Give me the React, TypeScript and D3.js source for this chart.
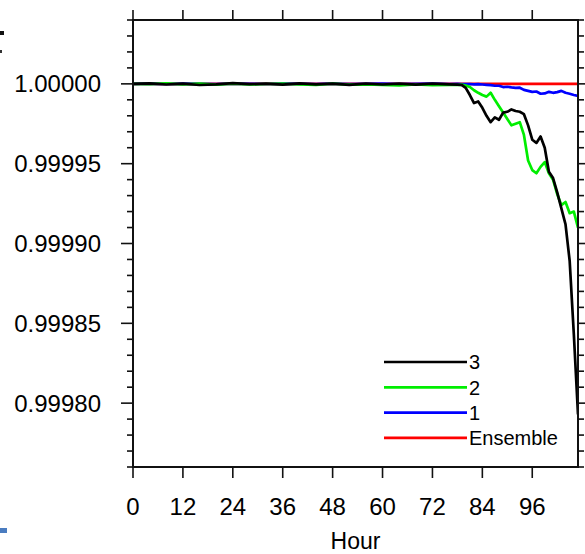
import React from "react";
import * as d3 from "d3";

// hours where the members were sampled (sparse in the flat part)
const hours = [
  0, 4, 8, 12, 16, 20, 24, 28, 32, 36, 40, 44, 48, 52, 56, 60, 64, 68, 72, 76,
  78, 79, 80, 81, 82, 83, 84, 85, 86, 87, 88, 89, 90, 91, 92, 93, 94, 95, 96,
  97, 98, 99, 100, 101, 102, 103, 104, 105, 106, 107,
];

const member3 = [
  1.0, 1.0000003, 0.9999996, 1.0000002, 0.9999993, 0.9999997, 1.0000004, 0.9999998, 1.0000001, 0.9999995,
  1.0000003, 0.9999997, 1.0000002, 0.9999994, 1.0000001, 0.9999996, 1.0000002, 0.9999995, 1.0000001, 0.9999997,
  0.9999995, 0.9999993,
  0.9999975, 0.999993, 0.999988, 0.999989, 0.999985, 0.99998, 0.999976, 0.999979, 0.9999775, 0.999982,
  0.9999825, 0.999984, 0.999983, 0.9999825, 0.999981, 0.999974, 0.999965, 0.999963, 0.999967, 0.99996,
  0.999945, 0.999941, 0.999932, 0.999922, 0.999912, 0.999889, 0.999843, 0.999793,
];

const member2 = [
  1.0, 0.9999998, 1.0000003, 0.9999997, 1.0000002, 0.9999995, 1.0000001, 0.9999996, 0.9999999, 1.0000002,
  0.9999996, 0.9999993, 1.0000001, 0.9999995, 0.9999997, 0.9999994, 0.9999991, 0.9999996, 0.9999992, 0.9999994,
  0.9999993, 0.9999995,
  0.999999, 0.999998, 0.999996, 0.9999944, 0.999993, 0.999992, 0.9999944, 0.99999, 0.999986, 0.999982,
  0.999978, 0.999974, 0.999975, 0.999976, 0.999968, 0.999952, 0.999946, 0.999944, 0.999948, 0.999951,
  0.999944, 0.99994, 0.999931, 0.999924, 0.999926, 0.999919, 0.99992, 0.99991,
];

const member1 = [
  1.0, 1.0000001, 0.9999999, 1.0000002, 1.0, 0.9999998, 1.0000001, 1.0, 0.9999999, 1.0000002,
  1.0, 0.9999998, 1.0000001, 0.9999999, 1.0, 1.0000001, 0.9999999, 1.0, 1.0000001, 0.9999999,
  1.0, 0.9999999,
  0.9999998, 0.9999999, 0.9999997, 0.9999998, 0.9999996, 0.9999994, 0.9999992, 0.9999988, 0.9999988, 0.999998,
  0.9999982, 0.9999978, 0.9999975, 0.9999976, 0.9999962, 0.9999956, 0.999995, 0.9999952, 0.9999938, 0.999994,
  0.999995, 0.9999944, 0.9999948, 0.9999956, 0.9999944, 0.9999938, 0.999993, 0.9999925,
];

const ensembleHours = [0, 24, 48, 72, 96, 107];
const ensemble = [1.0, 1.0, 1.0, 1.0, 1.0, 1.0];

const xTicks = [0, 12, 24, 36, 48, 60, 72, 84, 96];
const yTicks = [0.9998, 0.99985, 0.9999, 0.99995, 1.0];
const yTickLabels = ["0.99980", "0.99985", "0.99990", "0.99995", "1.00000"];

const legendNames = ["3", "2", "1", "Ensemble"];
const legendColors = ["#000000", "#00ee00", "#0000ff", "#ff0000"];

const W = 585;
const H = 554;
const left = 133;
const right = 578;
const top = 20;
const bottom = 467;
const font = "'Liberation Sans', Arial, Helvetica, sans-serif";

export default function App() {
  const x = d3.scaleLinear().domain([0, 107]).range([left, right]);
  const y = d3.scaleLinear().domain([0.99976, 1.00004]).range([bottom, top]);

  const line = d3
    .line<[number, number]>()
    .x((d) => x(d[0]))
    .y((d) => y(d[1]));

  const series = [
    { hrs: ensembleHours, vals: ensemble, color: legendColors[3] },
    { hrs: hours, vals: member1, color: legendColors[2] },
    { hrs: hours, vals: member2, color: legendColors[1] },
    { hrs: hours, vals: member3, color: legendColors[0] },
  ];

  // minor ticks every 0.00001
  const minor = d3.range(0, 29).map((i) => 0.99976 + i * 0.00001);

  return (
    <svg
      width={W}
      height={H}
      style={{ position: "absolute", left: 0, top: 0, background: "#fff" }}
      fontFamily={font}
    >
      <defs>
        <clipPath id="plot">
          <rect x={left} y={top} width={right - left} height={bottom - top} />
        </clipPath>
      </defs>

      {/* crop leftovers at the edges */}
      <rect x={0} y={31} width={4} height={4} fill="#111" />
      <rect x={0} y={50} width={2} height={3} fill="#333" />
      <rect x={0} y={528} width={7} height={5} fill="#4a7cc0" />

      <g clipPath="url(#plot)">
        {series.map((s, i) => (
          <path
            key={i}
            d={line(s.hrs.map((h, j) => [h, s.vals[j]]) as [number, number][]) || ""}
            fill="none"
            stroke={s.color}
            strokeWidth={2.7}
            strokeLinejoin="round"
          />
        ))}
      </g>

      {/* frame */}
      <rect x={left} y={top} width={right - left} height={bottom - top} fill="none" stroke="#111" strokeWidth={2} />

      {/* y ticks, both sides, outward */}
      {minor.map((v, i) => {
        const isMajor = i % 5 === 4;
        const len = isMajor ? 12 : 6;
        return (
          <g key={"m" + i} stroke="#111" strokeWidth={1.6}>
            <line x1={left - len} x2={left} y1={y(v)} y2={y(v)} />
            <line x1={right} x2={right + len} y1={y(v)} y2={y(v)} />
          </g>
        );
      })}
      {yTicks.map((v, i) => (
        <text
          key={"yl" + i}
          x={101}
          y={y(v)}
          dy="0.36em"
          textAnchor="end"
          fontSize={24}
          fill="#000"
        >
          {yTickLabels[i]}
        </text>
      ))}

      {/* x ticks top and bottom, outward */}
      {xTicks.map((h) => (
        <g key={"x" + h} stroke="#111" strokeWidth={1.6}>
          <line x1={x(h)} x2={x(h)} y1={top - 10} y2={top} />
          <line x1={x(h)} x2={x(h)} y1={bottom} y2={bottom + 11} />
        </g>
      ))}
      {xTicks.map((h) => (
        <text key={"xl" + h} x={x(h)} y={515} textAnchor="middle" fontSize={24} fill="#000">
          {h}
        </text>
      ))}
      <text x={(left + right) / 2} y={549} textAnchor="middle" fontSize={23} fill="#000">
        Hour
      </text>

      {/* legend */}
      {legendNames.map((name, i) => {
        const ly = 362 + i * 25.3;
        return (
          <g key={name}>
            <line x1={384} x2={467} y1={ly} y2={ly} stroke={legendColors[i]} strokeWidth={2.7} />
            <text x={469} y={ly} dy="0.36em" fontSize={20} fill="#000">
              {name}
            </text>
          </g>
        );
      })}
    </svg>
  );
}
